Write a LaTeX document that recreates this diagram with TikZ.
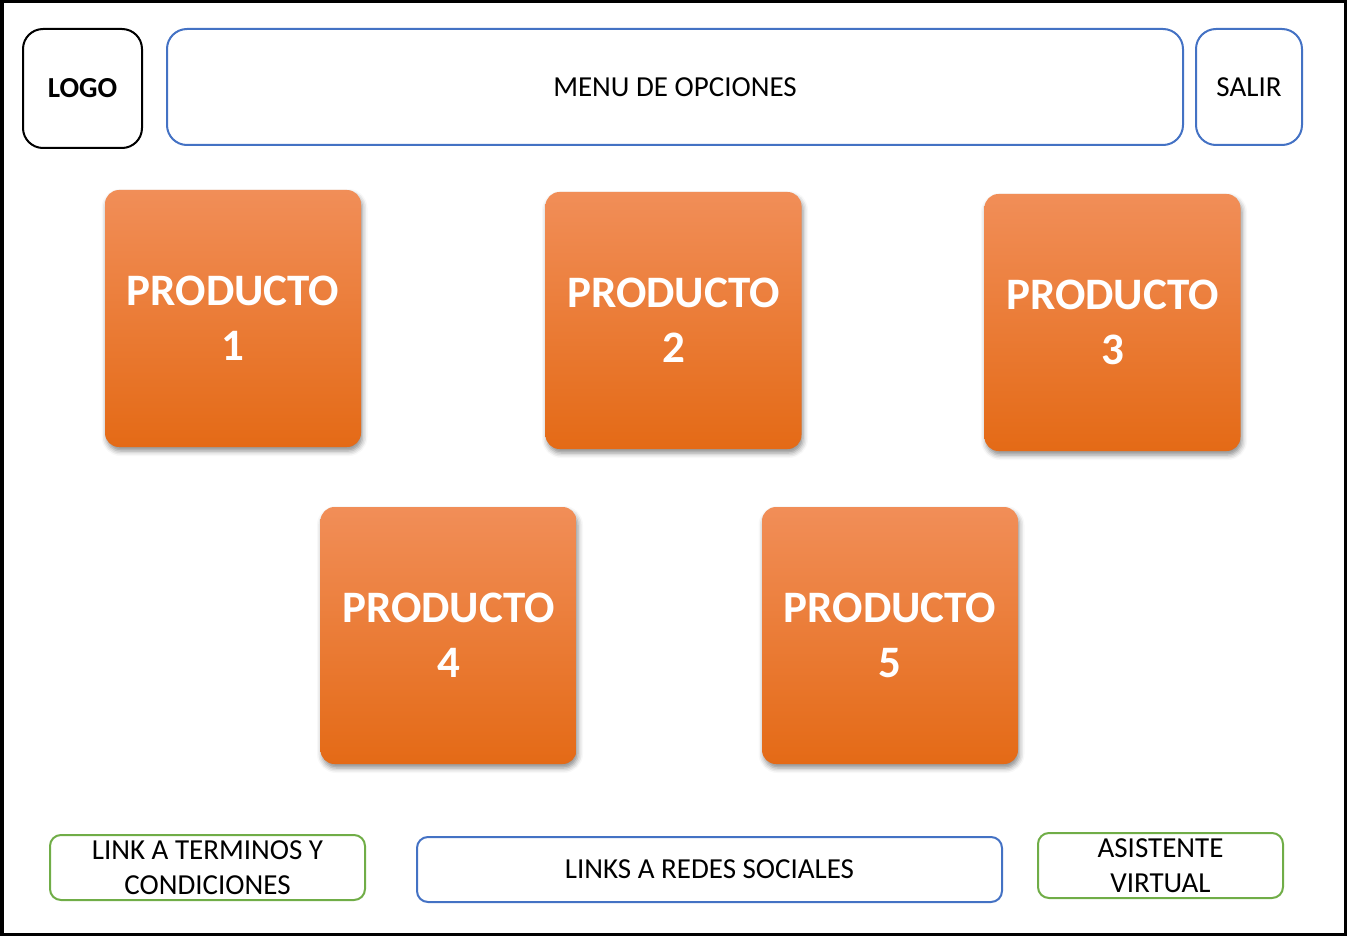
\documentclass[tikz,border=0pt]{standalone}
\usepackage{fontspec}
\setmainfont{Carlito}
\usetikzlibrary{shadows.blur}
\definecolor{bblue}{RGB}{68,114,196}
\definecolor{bgreen}{RGB}{112,173,71}
\definecolor{otop}{RGB}{241,142,88}
\definecolor{omid}{RGB}{245,126,42}
\definecolor{obot}{RGB}{228,106,22}
\tikzset{
  frame/.style={draw=black, line width=3.5pt, inner sep=0pt, minimum width=1343.5pt, minimum height=932.5pt},
  topbox/.style={draw, line width=2pt, rounded corners=20pt, inner sep=0pt, align=center, font=\fontsize{29}{35}\selectfont},
  lowbox/.style={draw, line width=2pt, rounded corners=11pt, inner sep=0pt, align=center, font=\fontsize{29}{35}\selectfont, minimum height=65pt},
  prod/.style={rounded corners=14pt, inner sep=0pt, minimum width=256pt, minimum height=257pt,
    top color=otop, middle color=omid, bottom color=obot, text=white, align=center,
    font=\bfseries\fontsize{45}{55}\selectfont,
    blur shadow={shadow xshift=1.5pt, shadow yshift=-4pt, shadow blur radius=5pt, shadow opacity=45}}
}
\begin{document}
\begin{tikzpicture}[x=1pt,y=-1pt]
\useasboundingbox (0,0) rectangle (1347,936);
\node[frame] (frame) at (673.5,468) {};
% top bar
\node[topbox, draw=black, minimum width=119pt, minimum height=119pt, font=\bfseries\fontsize{29}{35}\selectfont] (logo) at (82.5,88.5) {LOGO};
\node[topbox, draw=bblue, minimum width=1016pt, minimum height=116pt] (menu) at (675,87) {MENU DE OPCIONES};
\node[topbox, draw=bblue, minimum width=106pt, minimum height=116pt] (salir) at (1249,87) {SALIR};
% products
\node[prod] (p1) at (233,318.5) {PRODUCTO\\1};
\node[prod] (p2) at (673.5,320.5) {PRODUCTO\\2};
\node[prod] (p3) at (1112.5,322.5) {PRODUCTO\\3};
\node[prod] (p4) at (448.5,635.5) {PRODUCTO\\4};
\node[prod] (p5) at (890,635.5) {PRODUCTO\\5};
% bottom bar
\node[lowbox, draw=bgreen, minimum width=315pt] (terms) at (207.5,867.5) {LINK A TERMINOS Y\\CONDICIONES};
\node[lowbox, draw=bblue, minimum width=585pt] (redes) at (709.5,869.5) {LINKS A REDES SOCIALES};
\node[lowbox, draw=bgreen, minimum width=245pt] (asis) at (1160.5,865.5) {ASISTENTE\\VIRTUAL};
\end{tikzpicture}
\end{document}
